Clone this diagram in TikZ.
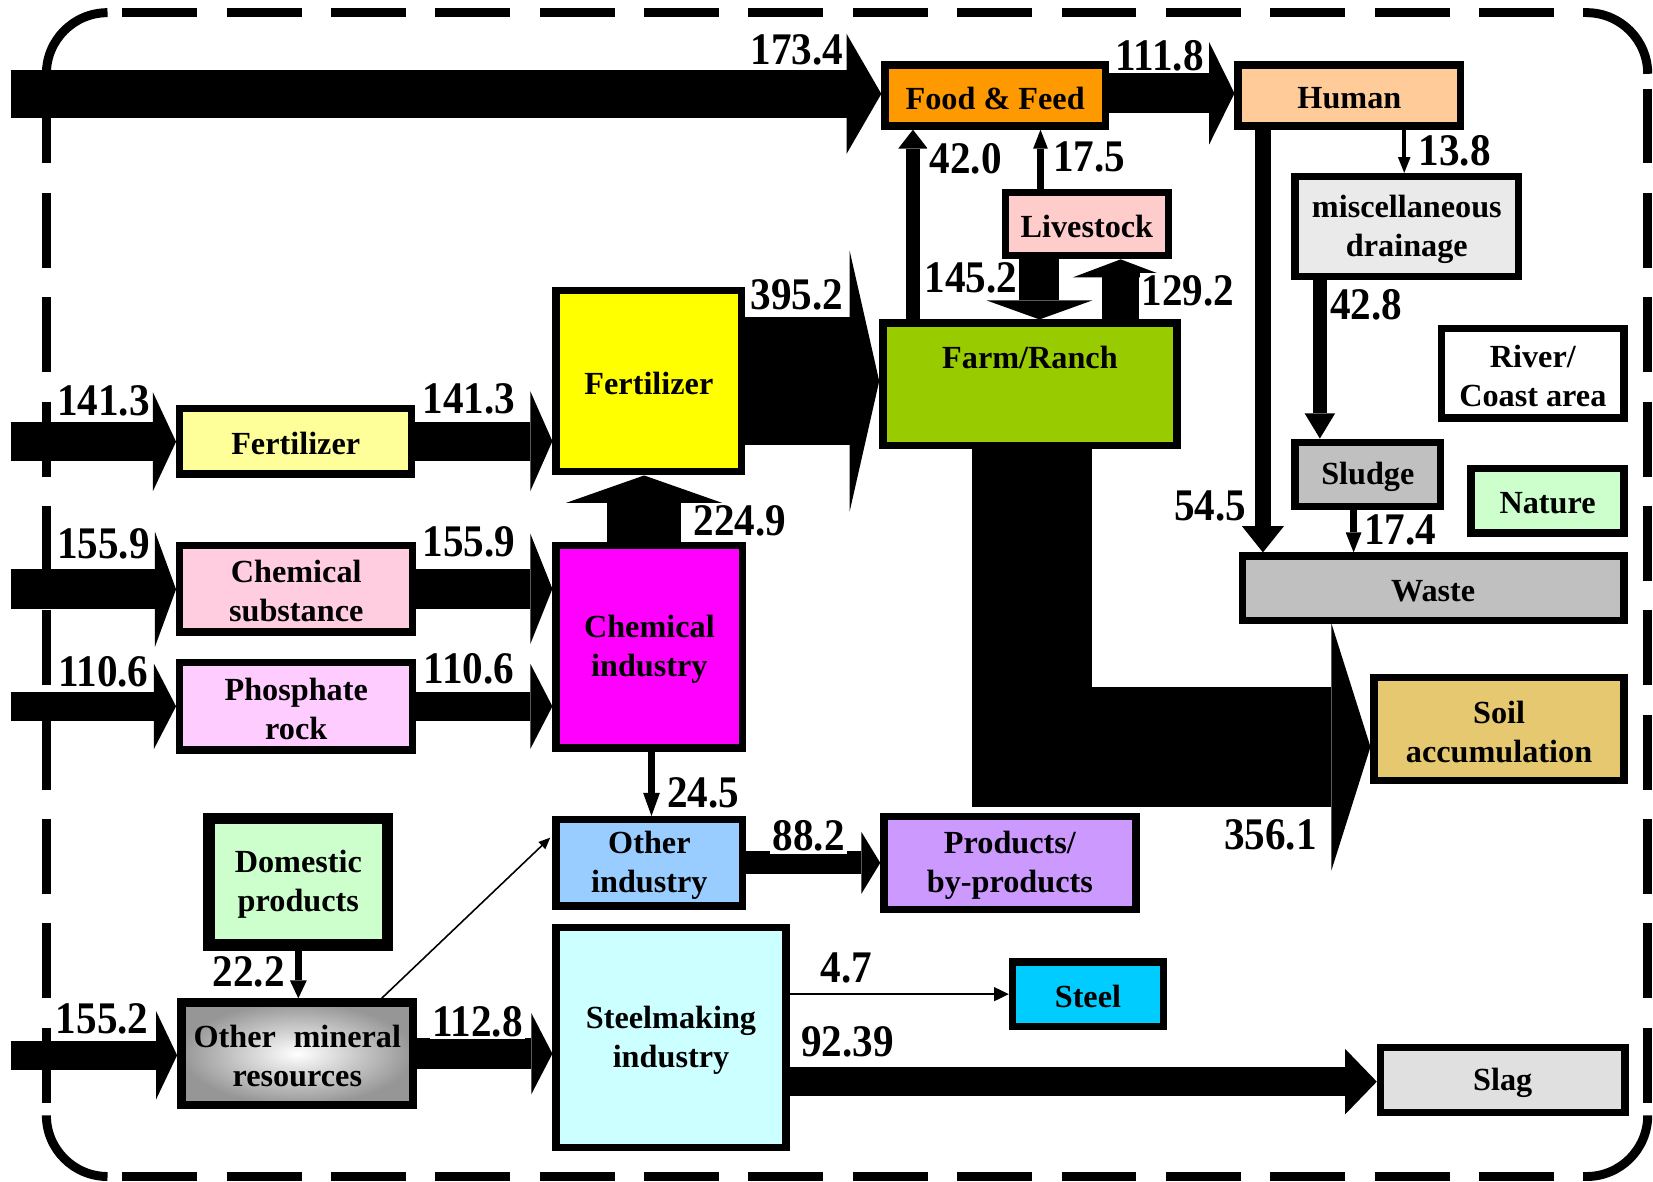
\documentclass[tikz,border=0pt]{standalone}
\usepackage{fontspec}
\setmainfont{Liberation Serif}
\newfontfamily\numfont[FakeStretch=0.91]{Liberation Serif}
\usetikzlibrary{arrows.meta,fit,calc}
\pgfdeclarelayer{frame}
\pgfdeclarelayer{flows}
\pgfsetlayers{frame,flows,main}

% box with outer edges (x1,y1)-(x2,y2); the 0.7mm outline is drawn inside them,
% and the text sits at the centre of the box
\newcommand\blk[7]{\node[box,#6,fit={(#2+3.5,#3+3.5) (#4-3.5,#5-3.5)},
  label={[boxtext,yshift=-0.25mm]center:#7}] (#1) {};}

\begin{document}
\begin{tikzpicture}[x=0.1mm,y=-0.1mm,
  box/.style={draw=black,line width=0.7mm,inner sep=0pt},
  boxtext/.style={inner sep=0pt,align=center,
    font=\fontsize{8.7}{10.5}\selectfont\bfseries},
  qty/.style={fill=white,inner sep=0.6pt,font=\numfont\fontsize{12.2}{13}\selectfont\bfseries},
  flow/.style n args={3}{draw=black,line width=#1,
    -{Triangle[line width=0pt,length=#3 0 0,width=#2 0 0]}},
  thinflow/.style={draw=black,line width=#1,-{Triangle[length=1.4mm 0 0,width=1.3mm 0 0]}},
  frameline/.style={line width=0.85mm},
]
\path[use as bounding box] (0,0) rectangle (1568,1121);

% ---------- boxes ----------
\blk{food}{836}{58}{1052}{123}{fill={rgb,255:red,255;green,153;blue,0}}{Food \& Feed}
\blk{human}{1171}{58}{1389}{123}{fill={rgb,255:red,255;green,204;blue,153}}{Human}
\blk{live}{950}{179}{1112}{246}{fill={rgb,255:red,255;green,204;blue,204}}{Livestock}
\blk{misc}{1225}{164}{1444}{266}{fill={rgb,255:red,234;green,234;blue,234}}{miscellaneous\\drainage}
\blk{farm}{834}{303}{1120}{426}{fill={rgb,255:red,153;green,204;blue,0}}{}
\node[boxtext] (farmtxt) at (977,339) {Farm/Ranch};
\blk{river}{1364}{308}{1544}{400}{fill=white}{River/\\Coast area}
\blk{sludge}{1225}{416}{1370}{484}{fill={rgb,255:red,192;green,192;blue,192}}{Sludge}
\blk{nature}{1392}{441}{1544}{509}{fill={rgb,255:red,204;green,255;blue,204}}{Nature}
\blk{waste}{1175}{524}{1544}{592}{fill={rgb,255:red,192;green,192;blue,192}}{Waste}
\blk{soil}{1300}{639}{1544}{744}{fill={rgb,255:red,230;green,200;blue,112}}{Soil\\accumulation}
\blk{fertbig}{524}{272}{707}{451}{fill={rgb,255:red,255;green,255;blue,0}}{Fertilizer}
\blk{fertsmall}{167}{384}{394}{453}{fill={rgb,255:red,255;green,255;blue,153}}{Fertilizer}
\blk{chemsub}{167}{514}{395}{603}{fill={rgb,255:red,255;green,204;blue,224}}{Chemical\\substance}
\blk{phos}{167}{625}{395}{715}{fill={rgb,255:red,255;green,204;blue,255}}{Phosphate\\rock}
\blk{chemind}{524}{514}{708}{713}{fill={rgb,255:red,255;green,0;blue,255}}{Chemical\\industry}
\blk{otherind}{524}{774}{708}{863}{fill={rgb,255:red,153;green,204;blue,255}}{Other\\industry}
\blk{products}{835}{771}{1081}{866}{fill={rgb,255:red,204;green,153;blue,255}}{Products/\\by-products}
\blk{domestic}{195}{773}{371}{900}{line width=1.1mm,fill={rgb,255:red,204;green,255;blue,204}}{Domestic\\products}
\blk{mineral}{168.5}{947.5}{395.5}{1051.5}{line width=0.8mm,inner color=white,outer color={rgb,255:red,150;green,150;blue,150}}{Other\hspace{0.55em}mineral\\resources}
\blk{steelmk}{524}{876}{749}{1092}{fill={rgb,255:red,204;green,255;blue,255}}{Steelmaking\\industry}
\blk{steel}{957}{909}{1107}{977}{fill={rgb,255:red,0;green,204;blue,255}}{Steel}
\blk{slag}{1306}{990}{1545}{1059}{fill={rgb,255:red,224;green,224;blue,224}}{Slag}

% ---------- reference points for arrow positions ----------
\coordinate (in1734) at (10,89);
\coordinate (in1413) at (10,419);
\coordinate (in1559) at (10,559);
\coordinate (in1106) at (10,670);
\coordinate (in1552) at (10,1001);
\coordinate (x420) at (866,0);
\coordinate (x175) at (987,0);
\coordinate (x138) at (1332,0);
\coordinate (x452) at (986,0);
\coordinate (x292) at (1063,0);
\coordinate (x545) at (1198,0);
\coordinate (x428) at (1252,0);
\coordinate (x174) at (1284,0);
\coordinate (x249) at (611,0);
\coordinate (x245) at (618,0);
\coordinate (x222) at (283,0);
\coordinate (xsoil) at (979,0);
\coordinate (xmin) at (362,0);

% ---------- flows ----------
\begin{pgfonlayer}{flows}
\draw[flow={4.5mm}{11.4mm}{3.3mm}] (in1734) -- (in1734 -| food.west);
\draw[flow={3.8mm}{9.7mm}{2.4mm}] ($(food.east)+(0,-2)$) -- ($(human.west)+(0,-2)$);
\draw[flow={1.4mm}{2.8mm}{1.8mm}] (farm.north -| x420) -- (food.south -| x420);
\draw[flow={0.6mm}{1.4mm}{1.8mm}] (live.north -| x175) -- (food.south -| x175);
\draw[flow={0.4mm}{1.2mm}{1.5mm}] (human.south -| x138) -- (misc.north -| x138);
\draw[flow={3.8mm}{10mm}{1.8mm}] (live.south -| x452) -- (farm.north -| x452);
\draw[flow={3.5mm}{9mm}{1.7mm}] (farm.north -| x292) -- (live.south -| x292);
\draw[flow={1.6mm}{4mm}{2.5mm}] (human.south -| x545) -- (waste.north -| x545);
\draw[flow={1.3mm}{2.9mm}{2.4mm}] (misc.south -| x428) -- (sludge.north -| x428);
\draw[flow={0.6mm}{1.5mm}{1.9mm}] (sludge.south -| x174) -- (waste.north -| x174);
\draw[flow={12.2mm}{24.7mm}{2.8mm}] (fertbig.east) -- (fertbig.east -| farm.west);
\draw[flow={11.4mm}{23.4mm}{3.7mm},line join=miter] (farm.south -| xsoil) |- ($(soil.west)+(0,17)$);
\draw[flow={3.7mm}{9.4mm}{2.2mm}] (in1413) -- (in1413 -| fertsmall.west);
\draw[flow={3.7mm}{9.5mm}{2.1mm}] (fertsmall.east) -- (fertsmall.east -| fertbig.west);
\draw[flow={3.8mm}{10.9mm}{2.0mm}] (in1559) -- (in1559 -| chemsub.west);
\draw[flow={3.8mm}{10.5mm}{2.1mm}] (chemsub.east) -- (chemsub.east -| chemind.west);
\draw[flow={2.8mm}{8.1mm}{2.1mm}] (in1106) -- (in1106 -| phos.west);
\draw[flow={2.8mm}{8.1mm}{2.1mm}] (phos.east) -- (phos.east -| chemind.west);
\draw[flow={7mm}{14.8mm}{2.6mm}] (chemind.north -| x249) -- (fertbig.south -| x249);
\draw[flow={0.7mm}{1.6mm}{2.2mm}] (chemind.south -| x245) -- (otherind.north -| x245);
\draw[flow={2.2mm}{5.9mm}{1.8mm}] (otherind.east) -- (products.west);
\draw[flow={0.7mm}{1.6mm}{1.7mm}] (domestic.south -| x222) -- (mineral.north -| x222);
\draw[flow={2.8mm}{8.4mm}{2.0mm}] (in1552) -- (in1552 -| mineral.west);
\draw[flow={2.9mm}{7.7mm}{2.0mm}] (mineral.east) -- (mineral.east -| steelmk.west);
\draw[flow={2.8mm}{6.2mm}{3.0mm}] ($(slag.west -| steelmk.east)+(0,1.5)$) -- ($(slag.west)+(0,1.5)$);
\draw[thinflow=0.2mm] (steel.west -| steelmk.east) -- (steel.west);
\draw[draw=black,line width=0.15mm,-{Triangle[length=1.1mm 0 0,width=0.9mm 0 0]}]
  (mineral.north -| xmin) -- ($(otherind.west)+(-2,-24)$);
\end{pgfonlayer}

% ---------- quantities ----------
\node[qty] (q1734) at (756,47) {173.4};
\node[qty] (q1118) at (1100,53) {111.8};
\node[qty] (q420) at (916,151) {42.0};
\node[qty] (q175) at (1033,149) {17.5};
\node[qty] (q138) at (1380,143) {13.8};
\node[qty] (q1452) at (921,264) {145.2};
\node[qty] (q1292) at (1127,276) {129.2};
\node[qty] (q428) at (1296,289) {42.8};
\node[qty] (q3952) at (756,280) {395.2};
\node[qty] (q1413a) at (98,380) {141.3};
\node[qty] (q1413b) at (445,378) {141.3};
\node[qty] (q1559a) at (98,516) {155.9};
\node[qty] (q1559b) at (445,514) {155.9};
\node[qty] (q1106a) at (98,637) {110.6};
\node[qty] (q1106b) at (445,634) {110.6};
\node[qty] (q2249) at (702,494) {224.9};
\node[qty] (q545) at (1148,480) {54.5};
\node[qty] (q174) at (1328,503) {17.4};
\node[qty] (q3561) at (1205,792) {356.1};
\node[qty] (q245) at (667,752) {24.5};
\node[qty] (q882) at (767,793) {88.2};
\node[qty] (q222) at (236,922) {22.2};
\node[qty] (q1552) at (97,966) {155.2};
\node[qty] (q1128) at (453,969) {112.8};
\node[qty] (q47) at (803,918) {4.7};
\node[qty] (q9239) at (804,988) {92.39};

% ---------- system boundary ----------
\begin{pgfonlayer}{frame}
\draw[frameline] (44,70) arc[start angle=180,end angle=90,radius=5.8mm];
\draw[frameline] (1505,12) arc[start angle=90,end angle=0,radius=5.8mm];
\draw[frameline] (1563,1058) arc[start angle=0,end angle=-90,radius=5.8mm];
\draw[frameline] (102,1116) arc[start angle=270,end angle=180,radius=5.8mm];
\draw[frameline,dash pattern=on 7.1mm off 2.8mm,dash phase=8.5mm] (102,12) -- (1505,12);
\draw[frameline,dash pattern=on 7.1mm off 2.8mm,dash phase=8.5mm] (102,1116) -- (1505,1116);
\draw[frameline,dash pattern=on 7.1mm off 2.8mm,dash phase=8.5mm] (44,70) -- (44,1058);
\draw[frameline,dash pattern=on 7.1mm off 2.8mm,dash phase=8.5mm] (1563,70) -- (1563,1058);
\end{pgfonlayer}
\end{tikzpicture}
\end{document}
